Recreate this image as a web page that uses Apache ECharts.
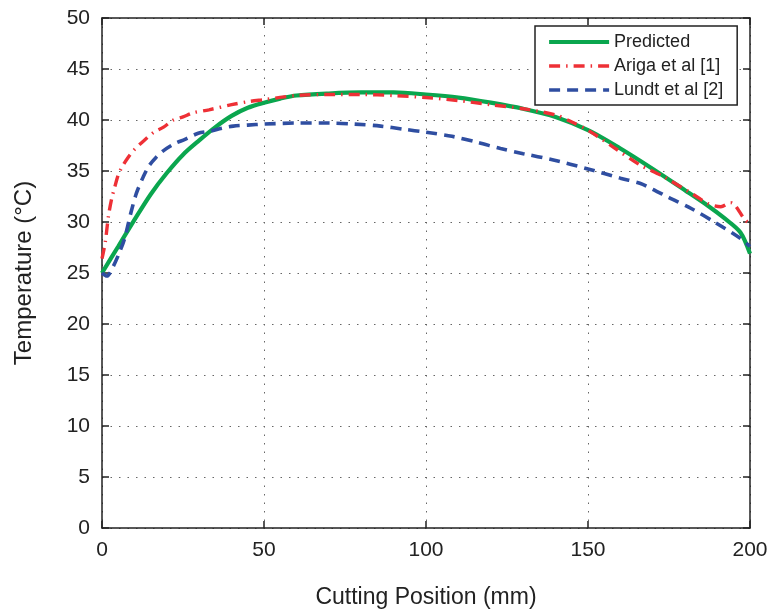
<!DOCTYPE html>
<html>
<head>
<meta charset="utf-8">
<title>Temperature vs Cutting Position</title>
<script src="https://cdn.jsdelivr.net/npm/echarts@6/dist/echarts.min.js"></script>
<style>
  html, body { margin: 0; padding: 0; background: #ffffff; }
  #chart { width: 773px; height: 612px; }
</style>
</head>
<body>
<div id="chart"></div>
<script>
// Temperature (°C) along the cutting position (mm)
const seriesNames = ['Predicted', 'Ariga et al [1]', 'Lundt et al [2]'];
const xTicks = [0, 50, 100, 150, 200];
const yTicks = [0, 5, 10, 15, 20, 25, 30, 35, 40, 45, 50];

const predicted = [
  [0, 25.0], [5, 27.6], [10, 30.2], [15, 32.7], [20, 34.8], [25, 36.6],
  [30, 38.0], [35, 39.3], [40, 40.4], [45, 41.2], [50, 41.7], [55, 42.1],
  [60, 42.4], [70, 42.6], [80, 42.7], [90, 42.7], [100, 42.5], [110, 42.2],
  [120, 41.7], [130, 41.1], [140, 40.3], [150, 39.0], [160, 37.2],
  [170, 35.2], [180, 33.1], [187, 31.6], [192, 30.4], [197, 29.0], [200, 26.9]
];

const ariga = [
  [0, 26.4], [1, 28.0], [2, 30.6], [3, 32.3], [4, 33.5], [5, 34.6],
  [6, 35.3], [8, 36.3], [10, 37.1], [13, 38.0], [16, 38.8], [19, 39.3],
  [22, 40.0], [25, 40.3], [28, 40.7], [33, 41.0], [40, 41.5], [45, 41.8],
  [50, 42.0], [60, 42.4], [70, 42.5], [80, 42.5], [90, 42.4], [100, 42.2],
  [110, 41.9], [120, 41.5], [130, 41.1], [140, 40.5], [145, 39.8],
  [150, 39.0], [158, 37.3], [166, 35.6], [173, 34.5], [183, 32.6],
  [187, 31.8], [191, 31.5], [194, 31.9], [198.5, 30.2], [200, 29.8]
];

const lundt = [
  [0, 25.0], [1.5, 24.7], [3.4, 25.6], [5.5, 27.1], [7, 28.4], [8, 29.7],
  [9, 31.0], [10.6, 32.8], [12.7, 34.4], [14.5, 35.5], [16.6, 36.3],
  [19, 37.0], [22.5, 37.7], [25.6, 38.1], [29.7, 38.7], [33.3, 38.9],
  [37, 39.2], [40.5, 39.4], [45, 39.5], [50, 39.6], [60, 39.7], [70, 39.7],
  [78, 39.6], [86, 39.4], [93, 39.1], [100, 38.8], [108, 38.4], [116, 37.8],
  [123, 37.2], [130, 36.7], [139, 36.1], [150, 35.2], [160, 34.3],
  [166, 33.8], [170, 33.2], [175, 32.4], [182, 31.3], [189, 30.0],
  [197, 28.4], [200, 27.6]
];

const ink = '#222222';
const fontFamily = '"Liberation Sans", Arial, Helvetica, sans-serif';

const frameAxis = {
  type: 'value',
  axisLine: { show: true, onZero: false, lineStyle: { color: ink, width: 1.5 } },
  axisTick: { show: true, inside: true, length: 7, lineStyle: { color: ink, width: 1.5 } }
};

const gridDots = { show: true, lineStyle: { color: '#666666', width: 1, type: [1.5, 7] } };

const chart = echarts.init(document.getElementById('chart'), null, { renderer: 'canvas' });

chart.setOption({
  backgroundColor: '#ffffff',
  animation: false,
  textStyle: { fontFamily: fontFamily },
  grid: { left: 102, right: 23, top: 18, bottom: 84, outerBoundsMode: 'none', containLabel: false },
  legend: {
    data: seriesNames,
    orient: 'vertical',
    left: 535,
    top: 26,
    itemWidth: 60,
    itemHeight: 14,
    itemGap: 6,
    padding: [7, 14, 6, 12],
    backgroundColor: '#ffffff',
    borderColor: ink,
    borderWidth: 1.5,
    borderRadius: 0,
    // line-only keys: keep the series line width, hide the marker on top of it
    lineStyle: { width: 'inherit' },
    itemStyle: { opacity: 0, color: 'rgba(0,0,0,0)', borderWidth: 0 },
    textStyle: { fontSize: 18, color: ink, lineHeight: 18, fontFamily: fontFamily }
  },
  xAxis: [
    Object.assign({}, frameAxis, {
      min: xTicks[0], max: xTicks[xTicks.length - 1], interval: 50,
      position: 'bottom',
      axisLabel: { fontSize: 21, color: ink, margin: 12, fontFamily: fontFamily },
      splitLine: gridDots,
      name: 'Cutting Position (mm)',
      nameLocation: 'middle',
      nameGap: 58,
      nameTextStyle: { fontSize: 23, color: ink, fontFamily: fontFamily }
    }),
    Object.assign({}, frameAxis, {
      min: xTicks[0], max: xTicks[xTicks.length - 1], interval: 50,
      position: 'top',
      axisLabel: { show: false },
      splitLine: { show: false }
    })
  ],
  yAxis: [
    Object.assign({}, frameAxis, {
      min: yTicks[0], max: yTicks[yTicks.length - 1], interval: 5,
      position: 'left',
      axisLabel: { fontSize: 21, color: ink, margin: 12, fontFamily: fontFamily },
      splitLine: gridDots,
      name: 'Temperature (\u00B0C)',
      nameLocation: 'middle',
      nameGap: 66,
      nameTextStyle: { fontSize: 24, color: ink, fontFamily: fontFamily }
    }),
    Object.assign({}, frameAxis, {
      min: yTicks[0], max: yTicks[yTicks.length - 1], interval: 5,
      position: 'right',
      axisLabel: { show: false },
      splitLine: { show: false }
    })
  ],
  series: [
    {
      name: seriesNames[0], type: 'line', data: predicted,
      symbol: 'none', smooth: 0.3, z: 3,
      lineStyle: { color: '#0aa64e', width: 4.2, type: 'solid' },
      itemStyle: { color: '#0aa64e' }
    },
    {
      name: seriesNames[1], type: 'line', data: ariga,
      symbol: 'none', smooth: 0.3, z: 4,
      lineStyle: { color: '#ee3036', width: 3.4, type: [11, 6, 1.5, 6] },
      itemStyle: { color: '#ee3036' }
    },
    {
      name: seriesNames[2], type: 'line', data: lundt,
      symbol: 'none', smooth: 0.3, z: 5,
      lineStyle: { color: '#2f4ea1', width: 3.6, type: [11, 7] },
      itemStyle: { color: '#2f4ea1' }
    }
  ]
});
</script>
</body>
</html>
